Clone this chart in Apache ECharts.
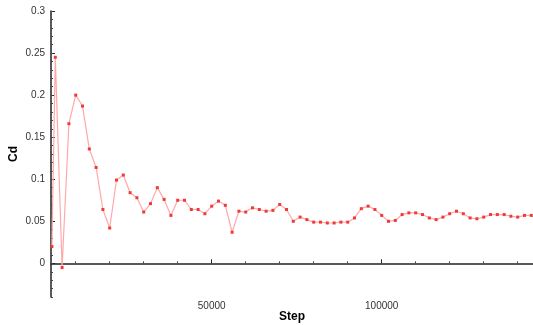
<!DOCTYPE html>
<html>
<head>
<meta charset="utf-8">
<script src="https://cdn.jsdelivr.net/npm/echarts@6/dist/echarts.min.js"></script>
<style>
  html, body { margin: 0; padding: 0; background: #fff; }
  #main { width: 533px; height: 325px; }
</style>
</head>
<body>
<div id="main"></div>
<script>
// Step / Cd history
var steps = [3000, 4000, 6000, 8000, 10000, 12000, 14000, 16000, 18000, 20000,
  22000, 24000, 26000, 28000, 30000, 32000, 34000, 36000, 38000, 40000,
  42000, 44000, 46000, 48000, 50000, 52000, 54000, 56000, 58000, 60000,
  62000, 64000, 66000, 68000, 70000, 72000, 74000, 76000, 78000, 80000,
  82000, 84000, 86000, 88000, 90000, 92000, 94000, 96000, 98000, 100000,
  102000, 104000, 106000, 108000, 110000, 112000, 114000, 116000, 118000, 120000,
  122000, 124000, 126000, 128000, 130000, 132000, 134000, 136000, 138000, 140000,
  142000, 144000];
var cd = [0.020, 0.245, -0.005, 0.166, 0.200, 0.187, 0.136, 0.114, 0.064, 0.042,
  0.099, 0.105, 0.084, 0.078, 0.061, 0.071, 0.090, 0.076, 0.057, 0.075,
  0.075, 0.064, 0.064, 0.059, 0.068, 0.074, 0.069, 0.037, 0.062, 0.061,
  0.066, 0.064, 0.062, 0.063, 0.070, 0.064, 0.050, 0.055, 0.052, 0.049,
  0.049, 0.048, 0.048, 0.049, 0.049, 0.054, 0.065, 0.068, 0.064, 0.057,
  0.050, 0.051, 0.058, 0.060, 0.060, 0.058, 0.054, 0.052, 0.055, 0.059,
  0.062, 0.059, 0.054, 0.053, 0.055, 0.058, 0.058, 0.058, 0.056, 0.055,
  0.057, 0.057];
var yLabels = [0, 0.05, 0.1, 0.15, 0.2, 0.25, 0.3];
var xLabels = [50000, 100000];
var xMinor = [10000, 20000, 30000, 40000, 60000, 70000, 80000, 90000,
  110000, 120000, 130000, 140000];

var pts = [];
for (var i = 0; i < steps.length; i++) pts.push([steps[i], cd[i]]);

var chart = echarts.init(document.getElementById('main'));
var font = 'Liberation Sans, Arial, sans-serif';
var plain = function (v) { return String(v); };
var option = {
  animation: false,
  grid: { left: 51, top: 11, right: 0, bottom: 28, containLabel: false, outerBoundsMode: 'none' },
  xAxis: [
    {
      type: 'value', min: 2735, max: 144500, position: 'bottom',
      name: 'Step', nameLocation: 'middle', nameGap: 14, nameMoveOverlap: false,
      nameTextStyle: { fontFamily: font, fontWeight: 'bold', fontSize: 12, color: '#000', verticalAlign: 'top' },
      axisLine: { show: true, lineStyle: { color: '#222', width: 1.5 } },
      axisTick: { show: true, inside: true, length: 4, customValues: xLabels, lineStyle: { color: '#222' } },
      axisLabel: { customValues: xLabels, formatter: plain, margin: 4, fontFamily: font, fontSize: 10, color: '#333' },
      splitLine: { show: false }
    },
    {
      type: 'value', min: 2735, max: 144500, position: 'bottom', offset: 0,
      axisLine: { show: false },
      axisTick: { show: true, inside: true, length: 2, customValues: xMinor, lineStyle: { color: '#444' } },
      axisLabel: { show: false },
      splitLine: { show: false }
    }
  ],
  yAxis: [
    {
      type: 'value', min: -0.04, max: 0.3, position: 'left',
      name: 'Cd', nameLocation: 'middle', nameGap: 31, nameMoveOverlap: false,
      nameTextStyle: { fontFamily: font, fontWeight: 'bold', fontSize: 12, color: '#000' },
      axisLine: { show: true, lineStyle: { color: '#222', width: 1.5 } },
      axisTick: { show: true, inside: true, length: 4, customValues: yLabels, lineStyle: { color: '#222' } },
      axisLabel: { customValues: yLabels, formatter: plain, margin: 6, fontFamily: font, fontSize: 10, color: '#333' },
      splitLine: { show: false }
    },
    {
      type: 'value', min: -0.04, max: 0.3, interval: 0.01, position: 'left', offset: 0,
      axisLine: { show: false },
      axisTick: { show: true, inside: true, length: 2, lineStyle: { color: '#444' } },
      axisLabel: { show: false },
      splitLine: { show: false }
    }
  ],
  series: [
    {
      type: 'line',
      xAxisIndex: 0, yAxisIndex: 0,
      data: pts,
      clip: true,
      symbol: 'rect', symbolSize: 3,
      lineStyle: { color: '#ffa8a8', width: 1.2 },
      itemStyle: { color: '#f03a3a' }
    }
  ]
};
chart.setOption(option);
</script>
</body>
</html>
